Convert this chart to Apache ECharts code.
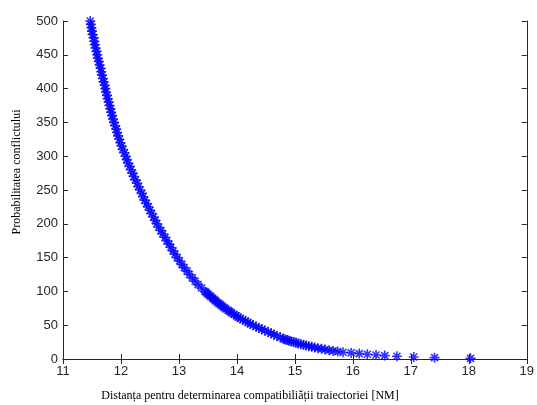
<!DOCTYPE html>
<html>
<head>
<meta charset="utf-8">
<script src="https://cdn.jsdelivr.net/npm/echarts@6/dist/echarts.min.js"></script>
<style>
  html, body { margin: 0; padding: 0; background: #fff; }
  #chart { width: 537px; height: 405px; }
</style>
</head>
<body>
<div id="chart"></div>
<script>
// valori
var distanta = [
  11.47, 11.48, 11.49, 11.50, 11.51, 11.53, 11.54, 11.55, 11.56, 11.58, 11.59,
  11.60, 11.62, 11.63, 11.65, 11.66, 11.67, 11.69, 11.70, 11.72, 11.73,
  11.74, 11.76, 11.77, 11.79, 11.80, 11.82, 11.83, 11.85, 11.86, 11.88,
  11.90, 11.92, 11.93, 11.95, 11.97, 11.99, 12.01, 12.03, 12.06, 12.08,
  12.10, 12.12, 12.15, 12.17, 12.20, 12.22, 12.25, 12.28, 12.30, 12.33,
  12.36, 12.38, 12.41, 12.44, 12.47, 12.50, 12.53, 12.56, 12.59, 12.62,
  12.65, 12.69, 12.72, 12.76, 12.79, 12.83, 12.86, 12.90, 12.93, 12.97,
  13.01, 13.05, 13.09, 13.14, 13.18, 13.23, 13.28, 13.33, 13.39, 13.45,
  13.47, 13.50, 13.53, 13.55, 13.58, 13.61, 13.63, 13.66, 13.69, 13.72,
  13.75, 13.78, 13.81, 13.85, 13.88, 13.91, 13.95, 13.99, 14.02, 14.06,
  14.10, 14.15, 14.19, 14.23, 14.28, 14.33, 14.38, 14.43, 14.48, 14.54,
  14.59, 14.64, 14.69, 14.75, 14.80,
  14.83, 14.87, 14.90, 14.94, 14.98, 15.02, 15.06, 15.10, 15.15, 15.19,
  15.24, 15.29, 15.34, 15.40, 15.46, 15.52, 15.59, 15.66, 15.74, 15.83,
  15.97, 16.11, 16.25, 16.40, 16.55, 16.76, 17.05, 17.41, 18.03
];
var probabilitate = [
  500, 495, 490, 485, 480, 475, 470, 465, 460, 455, 450,
  445, 440, 435, 430, 425, 420, 415, 410, 405, 400,
  395, 390, 385, 380, 375, 370, 365, 360, 355, 350,
  345, 340, 335, 330, 325, 320, 315, 310, 305, 300,
  295, 290, 285, 280, 275, 270, 265, 260, 255, 250,
  245, 240, 235, 230, 225, 220, 215, 210, 205, 200,
  195, 190, 185, 180, 175, 170, 165, 160, 155, 150,
  145, 140, 135, 130, 125, 120, 115, 110, 105, 100,
  98, 96, 94, 92, 90, 88, 86, 84, 82, 80,
  78, 76, 74, 72, 70, 68, 66, 64, 62, 60,
  58, 56, 54, 52, 50, 48, 46, 44, 42, 40,
  38, 36, 34, 32, 30,
  29, 28, 27, 26, 25, 24, 23, 22, 21, 20,
  19, 18, 17, 16, 15, 14, 13, 12, 11, 10,
  9, 8, 7, 6, 5, 4, 3, 2, 1
];
var xTicks = [11, 19, 1];
var yTicks = [0, 500, 50];

var puncte = [];
distanta.forEach(function (x, i) {
  puncte.push([x, probabilitate[i]]);
});

// marker de tip "*"
var stea = 'path://M5,0L5,10M0,5L10,5M1.5,1.5L8.5,8.5M1.5,8.5L8.5,1.5';

var axisLine = { lineStyle: { color: '#262626', width: 1 } };
var tick = { inside: true, length: 5, lineStyle: { color: '#262626' } };
var label = { color: '#262626', fontSize: 13, fontFamily: 'Liberation Sans, Arial, sans-serif' };

var chart = echarts.init(document.getElementById('chart'));
chart.setOption({
  animation: false,
  grid: { left: 63, right: 4, top: 21, bottom: 46 },
  xAxis: [{
    type: 'value', min: xTicks[0], max: xTicks[1], interval: xTicks[2], position: 'bottom',
    axisLine: axisLine, axisTick: tick, splitLine: { show: false },
    axisLabel: Object.assign({ margin: 6 }, label)
  }, {
    type: 'value', min: xTicks[0], max: xTicks[1], interval: xTicks[2], position: 'top',
    axisLine: axisLine, axisTick: tick, splitLine: { show: false }, axisLabel: { show: false }
  }],
  yAxis: [{
    type: 'value', min: yTicks[0], max: yTicks[1], interval: yTicks[2], position: 'left',
    axisLine: axisLine, axisTick: tick, splitLine: { show: false },
    axisLabel: Object.assign({ margin: 5 }, label)
  }, {
    type: 'value', min: yTicks[0], max: yTicks[1], interval: yTicks[2], position: 'right',
    axisLine: axisLine, axisTick: tick, splitLine: { show: false }, axisLabel: { show: false }
  }],
  graphic: [{
    type: 'text', x: 250, y: 396,
    style: {
      text: 'Distanța pentru determinarea compatibiliății traiectoriei [NM]',
      fill: '#000', font: '12px "Liberation Serif", "Times New Roman", serif',
      align: 'center', verticalAlign: 'middle'
    }
  }, {
    type: 'text', x: 17, y: 172, rotation: Math.PI / 2,
    style: {
      text: 'Probabilitatea conflictului',
      fill: '#000', font: '12px "Liberation Serif", "Times New Roman", serif',
      align: 'center', verticalAlign: 'middle'
    }
  }],
  series: [{
    type: 'scatter',
    data: puncte,
    symbol: stea,
    symbolSize: 10,
    itemStyle: { color: '#0000ff', borderColor: '#0000ff', borderWidth: 1.6 },
    emphasis: { disabled: true },
    silent: true
  }]
});
</script>
</body>
</html>
